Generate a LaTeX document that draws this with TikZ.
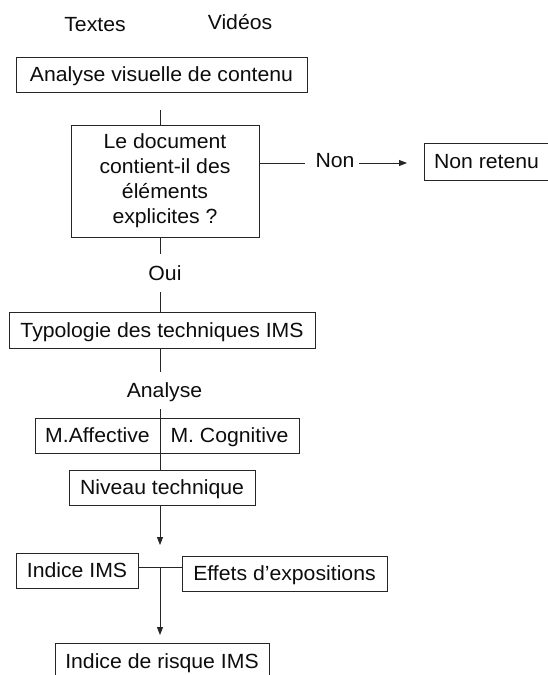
\documentclass[tikz,border=0pt]{standalone}
\usepackage{fontspec}
\setmainfont{Liberation Sans}[FakeStretch=1.035]
\usetikzlibrary{arrows.meta}
\begin{document}
\begin{tikzpicture}[x=1pt,y=-1pt,
  txt/.style={text=black!95, font=\fontsize{20.5}{25}\selectfont},
  box/.style={txt, draw=black!85, line width=0.9pt, inner sep=0pt, text height=14pt, text depth=0pt, minimum height=35pt},
  lbl/.style={txt, inner sep=0pt, anchor=base},
  conn/.style={draw=black!85, line width=0.9pt},
  arr/.style={conn, -{Triangle[length=8pt,width=6pt]}}]
\useasboundingbox (0,0) rectangle (548,675);
\clip (0,0) rectangle (548,675);
\fill[white] (0,0) rectangle (548,675);

\node[lbl] (tx) at (95,31.7) {Textes};
\node[lbl] (vd) at (240,29.3) {Vidéos};

\node[box, minimum width=291pt] (b1) at (161.5,74.5) {Analyse visuelle de contenu};
\node[box, minimum width=188pt, minimum height=112pt, align=center, text height=, text depth=] (b2) at (165,181) {Le document\\contient-il des\\éléments\\explicites ?};
\node[box, minimum width=125pt, minimum height=37pt] (nr) at (486.5,161.5) {Non retenu};
\node[lbl] (non) at (335,167) {Non};
\node[lbl] (oui) at (165,280) {Oui};
\node[box, minimum width=306pt, minimum height=36pt] (b3) at (162,330) {Typologie des techniques IMS};
\node[lbl] (an) at (164.5,397) {Analyse};
\node[box, minimum width=125pt] (b4a) at (97.5,435.5) {M.Affective};
\node[box, minimum width=139pt] (b4b) at (229.5,435.5) {M. Cognitive};
\node[box, minimum width=186pt] (b5) at (162,487.5) {Niveau technique};
\node[box, minimum width=122pt] (b6) at (77,570.5) {Indice IMS};
\node[box, minimum width=205pt] (b7) at (284.5,573.5) {Effets d’expositions};
\node[box, minimum width=214pt, minimum height=36pt] (b8) at (162,661) {Indice de risque IMS};

\coordinate (t1) at (160,110);
\draw[conn] (t1) -- (t1 |- b2.north);
\coordinate (t2) at (160,254);
\draw[conn] (t2 |- b2.south) -- (t2);
\coordinate (t3) at (160,292);
\draw[conn] (t3) -- (t3 |- b3.north);
\coordinate (t4) at (160,372);
\draw[conn] (t4 |- b3.south) -- (t4);
\coordinate (t5) at (160,409);
\draw[conn] (t5) -- (t5 |- b5.north);
\coordinate (t6) at (160,545);
\draw[arr] (t6 |- b5.south) -- (t6);
\coordinate (j) at (160,567);
\draw[conn] (b6.east |- j) -- (b7.west |- j);
\coordinate (t7) at (160,635);
\draw[arr] (j) -- (t7);
\coordinate (n1) at (305,163);
\draw[conn] (b2.east |- n1) -- (n1);
\coordinate (n2) at (359,163);
\coordinate (n3) at (407,163);
\draw[arr] (n2) -- (n3);
\end{tikzpicture}
\end{document}
